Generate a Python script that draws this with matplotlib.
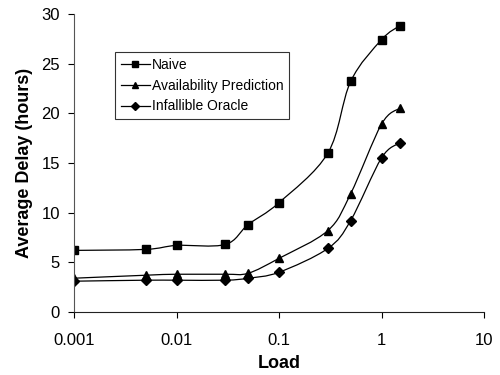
import numpy as np
import matplotlib
matplotlib.use("Agg")
from matplotlib import pyplot as plt
from matplotlib.path import Path
from matplotlib.patches import PathPatch
from matplotlib.lines import Line2D
from matplotlib.ticker import FixedLocator, FixedFormatter, NullLocator

plt.rcParams['font.family'] = ['Liberation Sans', 'DejaVu Sans']

load = [0.001, 0.005, 0.01, 0.03, 0.05, 0.1, 0.3, 0.5, 1, 1.5]
naive = [6.2, 6.3, 6.7, 6.8, 8.8, 11.0, 16.0, 23.2, 27.4, 28.8]
avail = [3.4, 3.7, 3.8, 3.8, 3.9, 5.4, 8.2, 11.9, 18.9, 20.5]
oracle = [3.1, 3.2, 3.2, 3.2, 3.4, 4.0, 6.4, 9.2, 15.5, 17.0]
names = ['Naive', 'Availability Prediction', 'Infallible Oracle']
xticks = [0.001, 0.01, 0.1, 1, 10]
xticklabels = ['0.001', '0.01', '0.1', '1', '10']


def smooth_path(xs, ys):
    # Excel-style smoothed line: cubic Bezier through the points (log x space)
    lx = np.log10(xs)
    ys = np.asarray(ys, float)
    pts = np.column_stack([lx, ys])
    n = len(pts)
    verts = [pts[0]]
    codes = [Path.MOVETO]
    for i in range(n - 1):
        p0 = pts[max(i - 1, 0)]
        p1 = pts[i]
        p2 = pts[i + 1]
        p3 = pts[min(i + 2, n - 1)]
        c1 = p1 + (p2 - p0) / 6
        c2 = p2 - (p3 - p1) / 6
        verts += [c1, c2, p2]
        codes += [Path.CURVE4] * 3
    verts = np.array(verts)
    verts[:, 0] = 10 ** verts[:, 0]
    return Path(verts, codes)


fig = plt.figure(figsize=(5, 3.75), dpi=100)
ax = fig.add_axes([0.148, 0.168, 0.82, 0.795])
ax.set_xscale('log')

markers = ['s', '^', 'D']
msizes = [6, 6, 5]
handles = []
for ys, m, ms, name in zip([naive, avail, oracle], markers, msizes, names):
    ax.add_patch(PathPatch(smooth_path(load, ys), facecolor='none',
                           edgecolor='black', lw=0.9, transform=ax.transData))
    ax.plot(load, ys, ls='none', marker=m, ms=ms, color='black')
    handles.append(Line2D([], [], color='black', lw=0.9, marker=m, ms=ms - 1))

ax.set_xlim(0.001, 10)
ax.set_ylim(0, 30)
ax.xaxis.set_major_locator(FixedLocator(xticks))
ax.xaxis.set_major_formatter(FixedFormatter(xticklabels))
ax.xaxis.set_minor_locator(NullLocator())
ax.set_yticks(range(0, 31, 5))

for s in ['top', 'right']:
    ax.spines[s].set_visible(False)
ax.spines['left'].set_color('#555555')
ax.spines['bottom'].set_color('#222222')
ax.tick_params(direction='out', length=4, labelsize=12, width=0.8)
ax.tick_params(axis='x', pad=11)
ax.tick_params(axis='y', pad=6)

ax.set_xlabel('Load', fontsize=13, fontweight='bold', labelpad=5)
ax.set_ylabel('Average Delay (hours)', fontsize=13, fontweight='bold', labelpad=6)

leg = ax.legend(handles, names, loc='upper left', bbox_to_anchor=(0.1, 0.872),
                fontsize=10, frameon=True, fancybox=False, edgecolor='black',
                handlelength=2.1, borderaxespad=0, handletextpad=0.15,
                labelspacing=0.5, borderpad=0.4)
leg.get_frame().set_linewidth(0.8)

fig.savefig('out.png', dpi=100)
